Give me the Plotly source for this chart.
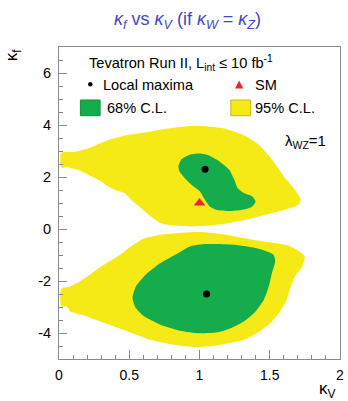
import plotly.graph_objects as go

# ---------------- data ----------------
upper95_x = [0.016, 0.102, 0.208, 0.324, 0.441, 0.582, 0.722, 0.862, 0.955, 1.049, 1.189, 1.306,
             1.422, 1.516, 1.609, 1.679, 1.721, 1.703, 1.609, 1.469, 1.329, 1.142, 0.955, 0.815,
             0.722, 0.652, 0.582, 0.512, 0.465, 0.395, 0.348, 0.301, 0.231, 0.137, 0.067, 0.016]
upper95_y = [2.94, 2.96, 3.11, 3.37, 3.56, 3.69, 3.82, 3.92, 3.97, 3.95, 3.85, 3.63,
             3.24, 2.67, 1.96, 1.51, 1.13, 0.93, 0.74, 0.55, 0.36, 0.17, 0.10, 0.13,
             0.23, 0.49, 0.81, 1.13, 1.38, 1.51, 1.64, 1.83, 2.02, 2.28, 2.37, 2.37]

upper68_x = [0.850, 0.873, 0.932, 1.002, 1.072, 1.142, 1.212, 1.247, 1.271, 1.317, 1.376, 1.399,
             1.376, 1.306, 1.212, 1.118, 1.072, 1.037, 1.002, 0.943, 0.885, 0.857]
upper68_y = [2.41, 2.69, 2.86, 2.90, 2.82, 2.60, 2.28, 1.90, 1.58, 1.38, 1.25, 1.06,
             0.87, 0.74, 0.69, 0.74, 0.87, 1.13, 1.45, 1.70, 2.02, 2.22]

lower95_x = [0.016, 0.079, 0.184, 0.301, 0.418, 0.512, 0.605, 0.722, 0.862, 1.002, 1.189, 1.376,
             1.621, 1.691, 1.749, 1.726, 1.679, 1.644, 1.616, 1.574, 1.504, 1.411, 1.317, 1.118,
             0.978, 0.815, 0.652, 0.488, 0.324, 0.161, 0.079, 0.056, 0.016]
lower95_y = [-2.30, -2.21, -1.89, -1.44, -1.05, -0.67, -0.37, -0.22, -0.15, -0.12, -0.22, -0.41,
             -0.62, -0.80, -1.05, -1.50, -1.82, -2.33, -2.78, -3.17, -3.62, -4.00, -4.26, -4.48,
             -4.54, -4.45, -4.26, -3.94, -3.62, -3.30, -3.17, -2.98, -2.98]

lower68_x = [0.523, 0.547, 0.617, 0.722, 0.838, 0.932, 1.049, 1.235, 1.422, 1.527, 1.539, 1.516,
             1.493, 1.458, 1.399, 1.317, 1.230, 1.142, 1.002, 0.862, 0.722, 0.605, 0.547]
lower68_y = [-2.65, -2.21, -1.76, -1.31, -0.96, -0.67, -0.58, -0.60, -0.76, -0.99, -1.24, -1.69,
             -2.21, -2.72, -3.17, -3.55, -3.80, -3.96, -4.01, -3.91, -3.68, -3.36, -3.04]

maxima_x = [1.04, 1.05]
maxima_y = [2.30, -2.50]

sm_x = [1.0]
sm_y = [1.0]

x_tickvals = [0, 0.5, 1, 1.5, 2]
x_ticktext = ["0", "0.5", "1", "1.5", "2"]
y_tickvals = [-4, -2, 0, 2, 4, 6]
y_ticktext = ["-4", "-2", "0", "2", "4", "6"]
x_minor = [i / 10 for i in range(0, 21)]
y_minor = [-5 + i * 0.5 for i in range(0, 25)]

# ---------------- figure ----------------
YELLOW = "#f5ea16"
GREEN = "#15ad4c"
FRAME = "#8a8a8a"
FONT = "Liberation Sans, Arial, sans-serif"
LEG = 14.6

fig = go.Figure()
for xs, ys, col in [(upper95_x, upper95_y, YELLOW), (lower95_x, lower95_y, YELLOW),
                    (upper68_x, upper68_y, GREEN), (lower68_x, lower68_y, GREEN)]:
    fig.add_trace(go.Scatter(x=xs + [xs[0]], y=ys + [ys[0]], mode="lines", fill="toself",
                             fillcolor=col, line=dict(color=col, width=0, shape="spline", smoothing=0.6),
                             hoverinfo="skip", showlegend=False))

fig.add_trace(go.Scatter(x=maxima_x, y=maxima_y, mode="markers",
                         marker=dict(color="black", size=7), showlegend=False))
fig.add_trace(go.Scatter(x=sm_x, y=sm_y, mode="markers",
                         marker=dict(color="#e8262e", size=10, symbol="triangle-up"), showlegend=False))

L, R, T, B = 59, 4, 47, 42
W, H = 348, 401
PW, PH = W - L - R, H - T - B


def px(x):
    return (x - L) / PW


def py(y):
    return (H - B - y) / PH


ann = []
ann.append(dict(text="Tevatron Run II, L<sub>int</sub> ≤ 10 fb<sup>-1</sup>", x=px(87), y=py(63),
                xanchor="left", yanchor="middle", font=dict(size=LEG)))
ann.append(dict(text="Local maxima", x=px(102), y=py(85), xanchor="left", yanchor="middle",
                font=dict(size=LEG)))
ann.append(dict(text="SM", x=px(256), y=py(85), xanchor="left", yanchor="middle", font=dict(size=LEG)))
ann.append(dict(text="68% C.L.", x=px(106), y=py(108.5), xanchor="left", yanchor="middle",
                font=dict(size=LEG)))
ann.append(dict(text="95% C.L.", x=px(256), y=py(108.5), xanchor="left", yanchor="middle",
                font=dict(size=LEG)))
ann.append(dict(text="λ<sub>WZ</sub>=1", x=px(286), y=py(141), xanchor="left", yanchor="middle",
                font=dict(size=15)))
ann.append(dict(text="κ<sub>f</sub>", x=px(12), y=py(46), xanchor="center", yanchor="top",
                textangle=-90, font=dict(size=17)))
ann.append(dict(text="κ<sub>V</sub>", x=px(342), y=py(390), xanchor="right", yanchor="middle",
                font=dict(size=17)))
for a in ann:
    a.update(xref="paper", yref="paper", showarrow=False)
    a["font"].update(color="black", family=FONT)

shapes = [
    dict(type="circle", xref="paper", yref="paper", x0=px(88.5), x1=px(93), y0=py(86.5), y1=py(82),
         fillcolor="black", line=dict(width=0)),
    dict(type="path", xref="paper", yref="paper",
         path=f"M {px(237.5)} {py(88.5)} L {px(246)} {py(88.5)} L {px(241.7)} {py(80.5)} Z",
         fillcolor="#e8262e", line=dict(width=0)),
    dict(type="rect", xref="paper", yref="paper", x0=px(80.7), x1=px(100.7), y0=py(115.7), y1=py(100),
         fillcolor=GREEN, line=dict(color="#109040", width=1)),
    dict(type="rect", xref="paper", yref="paper", x0=px(233.3), x1=px(253.3), y0=py(115.7), y1=py(100),
         fillcolor=YELLOW, line=dict(color="#c8b810", width=1)),
]

fig.update_layout(
    width=W, height=H, autosize=False,
    margin=dict(l=L, r=R, t=T, b=B, pad=0),
    paper_bgcolor="white", plot_bgcolor="white",
    font=dict(family=FONT, size=13, color="black"),
    title=dict(text="<i>κ</i><sub><i>f</i></sub> vs <i>κ</i><sub><i>V</i></sub> (if <i>κ</i><sub><i>W</i></sub> = <i>κ</i><sub><i>Z</i></sub>)",
               x=187.5 / W, y=1 - 19 / H, xref="container", yref="container",
               xanchor="center", yanchor="middle",
               font=dict(size=18, color="#4646c4", family=FONT)),
    annotations=ann, shapes=shapes,
    showlegend=False,
)
fig.update_xaxes(range=[0, 2], showgrid=False, zeroline=False,
                 showline=True, linecolor=FRAME, linewidth=1, mirror=True,
                 ticks="inside", ticklen=9, tickcolor=FRAME, tickwidth=1,
                 tickmode="array", tickvals=x_tickvals, ticktext=x_ticktext,
                 tickfont=dict(size=14), ticklabelstandoff=3, ticklabeloverflow="allow",
                 minor=dict(tickmode="array", tickvals=x_minor, ticks="inside", ticklen=4,
                            tickcolor=FRAME, showgrid=False))
fig.update_yaxes(range=[-5, 7], showgrid=False, zeroline=False,
                 showline=True, linecolor=FRAME, linewidth=1, mirror=True,
                 ticks="inside", ticklen=8, tickcolor=FRAME, tickwidth=1,
                 tickmode="array", tickvals=y_tickvals, ticktext=y_ticktext,
                 tickfont=dict(size=14.5), ticklabelstandoff=4,
                 minor=dict(tickmode="array", tickvals=y_minor, ticks="inside", ticklen=4,
                            tickcolor=FRAME, showgrid=False))

fig.write_html("out.html")
